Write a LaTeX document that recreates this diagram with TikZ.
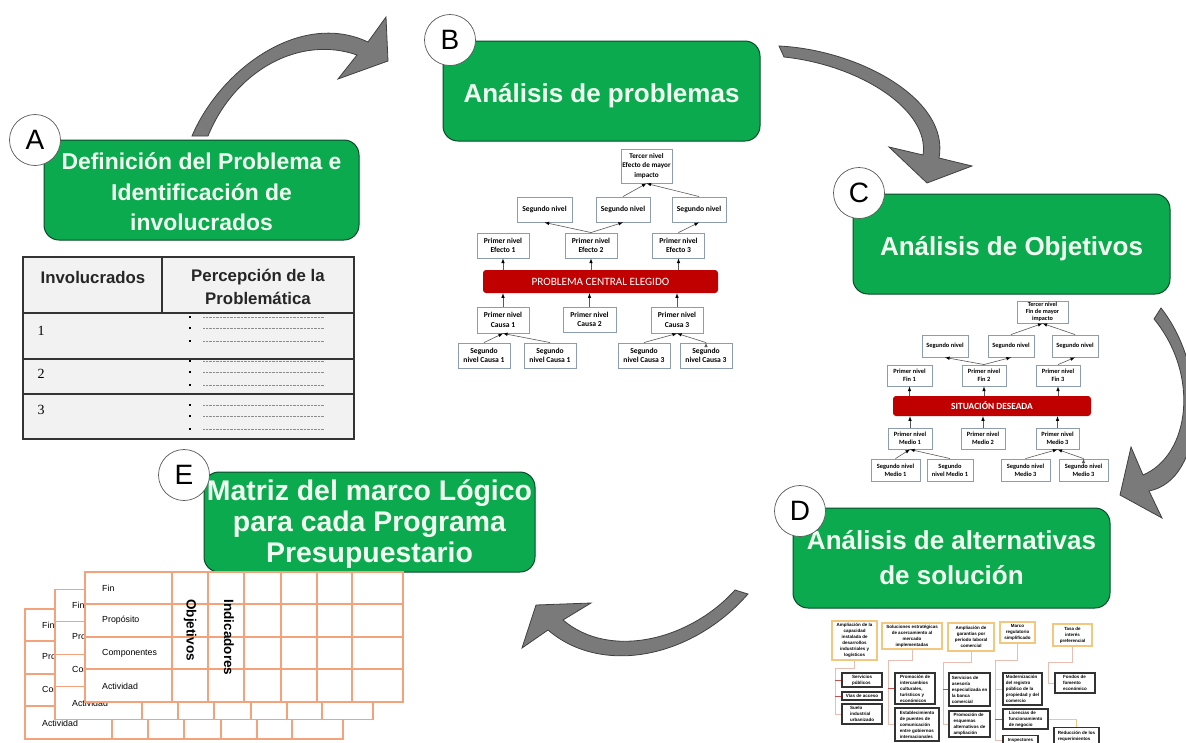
\documentclass[tikz,border=0pt]{standalone}
\usepackage{fontspec}
\setmainfont{Liberation Sans}
\newfontfamily\smallfont{Carlito}
\newfontfamily\numfont{Liberation Serif}
\usetikzlibrary{positioning}

\definecolor{verde}{HTML}{0BAA4F}
\definecolor{verdeosc}{HTML}{0A4A2A}
\definecolor{rojo}{HTML}{C00000}
\definecolor{azulgris}{HTML}{8D9DB0}
\definecolor{naranja}{HTML}{F4A27C}
\definecolor{amarillo}{HTML}{F3C77E}
\definecolor{rosa}{HTML}{E8BDB2}
\definecolor{rojizo}{HTML}{C8504A}

\tikzset{
  paso/.style={draw=verdeosc,line width=1pt,fill=verde,rounded corners=15pt,align=center,inner sep=0pt,
    text=green!6,font=\bfseries\fontsize{26}{31}\selectfont},
  letra/.style={circle,draw=black!65,line width=.7pt,fill=white,minimum size=51pt,inner sep=0pt,
    font=\fontsize{28}{28}\selectfont},
  flecha/.style={draw=black!75,line width=.8pt,fill=black!52,line join=miter},
  nivel/.style={draw=azulgris,line width=.9pt,fill=white,align=center,inner sep=0pt,
    font=\smallfont\bfseries\fontsize{7.6}{9.5}\selectfont},
  nivelc/.style={nivel,font=\smallfont\bfseries\fontsize{6.4}{8.3}\selectfont},
  barra/.style={fill=rojo,rounded corners=3pt,text=white,inner sep=0pt},
  meta/.style={draw=amarillo,line width=1.2pt,fill=white,align=center,inner sep=0pt,
    font=\bfseries\fontsize{4.5}{6}\selectfont},
  accion/.style={draw=black!80,line width=1.2pt,fill=white,align=left,inner sep=1.5pt,
    font=\bfseries\fontsize{4.5}{6}\selectfont},
  rama/.style={draw=rosa,line width=.8pt},
  ramaroja/.style={draw=rojizo,line width=.9pt},
  celda/.style={font=\fontsize{8.8}{8.8}\selectfont,anchor=west,inner sep=0pt},
  titulo/.style={align=center,font=\bfseries\fontsize{16.8}{22.5}\selectfont,text=black!85},
  num/.style={font=\numfont\fontsize{14}{14}\selectfont},
  vertical/.style={rotate=-90,font=\bfseries\fontsize{13.5}{13.5}\selectfont},
}

% one sheet of the matrix
\newcommand{\hojamatriz}[2]{
  \begin{scope}[shift={(#1,#2)}]
    \draw[draw=naranja,line width=1.7pt,fill=white] (85,572) rectangle (403,702);
    \foreach \ycelda in {604,637,669}
      \draw[naranja,line width=1.7pt] (85,\ycelda) -- (403,\ycelda);
    \foreach \xcelda in {172,208,244,281,317,352}
      \draw[naranja,line width=1.7pt] (\xcelda,572) -- (\xcelda,702);
    \node[celda] (fin#1) at (102,588) {Fin};
    \node[celda] (pro#1) at (102,620) {Propósito};
    \node[celda] (com#1) at (102,653) {Componentes};
    \node[celda] (act#1) at (102,686) {Actividad};
  \end{scope}
}

\begin{document}
\begin{tikzpicture}[x=1pt,y=-1pt]
  \clip (0,0) rectangle (1186,742);
  \fill[white] (0,0) rectangle (1186,742);

  % arrows between the steps
  \draw[flecha] (192,136) .. controls (220,70) and (300,10) .. (368,42)
    -- (386,17) -- (388,61) -- (338,79) -- (357,55)
    .. controls (300,35) and (235,70) .. (208,136) -- cycle;
  \draw[flecha] (779,46) .. controls (860,50) and (950,100) .. (939,158)
    -- (972,166) -- (927,183) -- (889,147) -- (923,155)
    .. controls (930,110) and (860,65) .. (784,57) -- cycle;
  \draw[flecha] (1161,308) .. controls (1210,370) and (1205,480) .. (1149,491)
    -- (1162,518) -- (1120,495) -- (1131,447) -- (1143,475)
    .. controls (1190,455) and (1200,375) .. (1154,319) -- cycle;
  \draw[flecha] (735,590) .. controls (690,640) and (610,660) .. (563,620)
    -- (591,603) -- (536,605) -- (522,648) -- (548,630)
    .. controls (600,675) and (690,660) .. (748,594) -- cycle;

  % A
  \node[paso,minimum width=315pt,minimum height=100pt,font=\bfseries\fontsize{22.9}{30.5}\selectfont] (pasoA) at (201.5,190) {\rule{0pt}{21pt}Definición del Problema e\\Identificación de\\involucrados};
  \node[letra] (letraA) at (35,140) {A};

  % B
  \node[paso,minimum width=317pt,minimum height=100pt,text height=22pt,text depth=0pt] (pasoB) at (601.5,91) {Análisis de problemas};
  \node[letra] (letraB) at (450,40) {B};

  % C
  \node[paso,minimum width=317pt,minimum height=100pt,text height=22pt,text depth=0pt] (pasoC) at (1011.5,244) {Análisis de Objetivos};
  \node[letra] (letraC) at (859,193) {C};

  % D
  \node[paso,minimum width=317pt,minimum height=100pt,font=\bfseries\fontsize{26}{35}\selectfont] (pasoD) at (951.5,558) {Análisis de alternativas\\de solución};
  \node[letra] (letraD) at (800,511) {D};

  % E
  \node[paso,minimum width=331pt,minimum height=100pt,font=\bfseries\fontsize{28.4}{31}\selectfont] (pasoE) at (369.5,522) {\rule{0pt}{24pt}Matriz del marco Lógico\\para cada Programa\\Presupuestario};
  \node[letra] (letraE) at (184,475) {E};

  % table of A
  \draw[draw=black!80,line width=1.4pt,fill=black!5] (23,257) rectangle (354,439);
  \draw[black!80,line width=1.4pt] (23,313) -- (354,313) (23,359) -- (354,359) (23,394) -- (354,394) (162,257) -- (162,313);
  \node[titulo] (invol) at (93,277) {Involucrados};
  \node[titulo] (perc) at (258,287) {Percepción de la\\Problemática};
  \node[num] (uno) at (41,331) {1};
  \node[num] (dos) at (41,374) {2};
  \node[num] (tres) at (41,410) {3};
  \foreach \ypunto in {317,328,341,361,372,385,405,416,429} {
    \fill[black] (188.7,\ypunto-1.3) rectangle (191.3,\ypunto+1.3);
    \draw[black!45,line width=.4pt,densely dotted] (203,\ypunto) -- (324,\ypunto);
  }

  % tree of B
  \node[barra,minimum width=235pt,minimum height=23pt,font=\smallfont\fontsize{11.2}{11.2}\selectfont] (rojoB) at (600.5,281.5) {PROBLEMA CENTRAL ELEGIDO};
  \node[nivel,minimum width=51pt,minimum height=34pt,font=\smallfont\bfseries\fontsize{7.2}{9.5}\selectfont] (terB) at (646.5,166) {Tercer nivel\\Efecto de mayor\\impacto};
  \node[nivel,minimum width=55pt,minimum height=25pt] (seB1) at (544.5,209.5) {Segundo nivel};
  \node[nivel,minimum width=54pt,minimum height=25pt] (seB2) at (623,209.5) {Segundo nivel};
  \node[nivel,minimum width=54pt,minimum height=25pt] (seB3) at (699,209.5) {Segundo nivel};
  \node[nivel,minimum width=52pt,minimum height=25pt] (prB1) at (503,245.5) {Primer nivel\\Efecto 1};
  \node[nivel,minimum width=52pt,minimum height=25pt] (prB2) at (591,245.5) {Primer nivel\\Efecto 2};
  \node[nivel,minimum width=52pt,minimum height=25pt] (prB3) at (678.5,245.5) {Primer nivel\\Efecto 3};
  \node[nivel,minimum width=52pt,minimum height=26pt] (caB1) at (503,320) {Primer nivel\\Causa 1};
  \node[nivel,minimum width=53pt,minimum height=25pt] (caB2) at (589.5,319.5) {Primer nivel\\Causa 2};
  \node[nivel,minimum width=52pt,minimum height=26pt] (caB3) at (677,320) {Primer nivel\\Causa 3};
  \node[nivel,minimum width=52pt,minimum height=25pt] (baB1) at (484,355.5) {Segundo\\nivel Causa 1};
  \node[nivel,minimum width=52pt,minimum height=25pt] (baB2) at (550,355.5) {Segundo\\nivel Causa 1};
  \node[nivel,minimum width=52pt,minimum height=25pt] (baB3) at (644,355.5) {Segundo\\nivel Causa 3};
  \node[nivel,minimum width=52pt,minimum height=25pt] (baB4) at (706,355.5) {Segundo\\nivel Causa 3};

  \path[-latex,draw=black!65,line width=.6pt]
  (prB1.south |- rojoB.north) edge (prB1.south)
  (prB2.south |- rojoB.north) edge (prB2.south)
  (prB3.south |- rojoB.north) edge (prB3.south)
  (caB1.north) edge (caB1.north |- rojoB.south)
  (caB2.north) edge (caB2.north |- rojoB.south)
  (caB3.north) edge (caB3.north |- rojoB.south)
  (prB2.north) edge (seB1.south)
  (prB2.north) edge (seB2.south)
  (prB3.north) edge (seB3.south)
  (seB2.north) edge (terB.south)
  (seB3.north) edge (terB.south)
  (baB1.north) edge (caB1.south)
  (baB2.north) edge (caB1.south)
  (baB3.north) edge (caB3.south)
  (baB4.north) edge (caB3.south);

  % tree of C
  \node[barra,minimum width=198pt,minimum height=20pt,font=\smallfont\bfseries\fontsize{9.4}{9.4}\selectfont] (rojoC) at (992,406) {SITUACIÓN DESEADA};
  \node[nivelc,minimum width=51pt,minimum height=22pt,font=\smallfont\bfseries\fontsize{6.2}{6.8}\selectfont] (terC) at (1042.5,312) {Tercer nivel\\Fin de mayor\\impacto};
  \node[nivelc,minimum width=46pt,minimum height=22pt] (seC1) at (945,346) {Segundo nivel};
  \node[nivelc,minimum width=46pt,minimum height=22pt] (seC2) at (1011,346) {Segundo nivel};
  \node[nivelc,minimum width=46pt,minimum height=22pt] (seC3) at (1075,346) {Segundo nivel};
  \node[nivelc,minimum width=45pt,minimum height=21pt] (prC1) at (909.5,375.5) {Primer nivel\\Fin 1};
  \node[nivelc,minimum width=44pt,minimum height=21pt] (prC2) at (984,375.5) {Primer nivel\\Fin 2};
  \node[nivelc,minimum width=44pt,minimum height=21pt] (prC3) at (1058,375.5) {Primer nivel\\Fin 3};
  \node[nivelc,minimum width=44pt,minimum height=21pt] (meC1) at (910,438.5) {Primer nivel\\Medio 1};
  \node[nivelc,minimum width=44pt,minimum height=21pt] (meC2) at (983,438.5) {Primer nivel\\Medio 2};
  \node[nivelc,minimum width=43pt,minimum height=21pt] (meC3) at (1057.5,438.5) {Primer nivel\\Medio 3};
  \node[nivelc,minimum width=49pt,minimum height=22pt] (baC1) at (895.5,470) {Segundo nivel\\Medio 1};
  \node[nivelc,minimum width=46pt,minimum height=22pt] (baC2) at (950,470) {Segundo\\nivel Medio 1};
  \node[nivelc,minimum width=49pt,minimum height=22pt] (baC3) at (1025.5,470) {Segundo nivel\\Medio 3};
  \node[nivelc,minimum width=49pt,minimum height=22pt] (baC4) at (1083.5,470) {Segundo nivel\\Medio 3};

  \path[-latex,draw=black!65,line width=.6pt]
  (prC1.south |- rojoC.north) edge (prC1.south)
  (prC2.south |- rojoC.north) edge (prC2.south)
  (prC3.south |- rojoC.north) edge (prC3.south)
  (meC1.north) edge (meC1.north |- rojoC.south)
  (meC2.north) edge (meC2.north |- rojoC.south)
  (meC3.north) edge (meC3.north |- rojoC.south)
  (prC2.north) edge (seC1.south)
  (prC2.north) edge (seC2.south)
  (prC3.north) edge (seC3.south)
  (seC2.north) edge (terC.south)
  (seC3.north) edge (terC.south)
  (baC1.north) edge (meC1.south)
  (baC2.north) edge (meC1.south)
  (baC3.north) edge (meC3.south)
  (baC4.north) edge (meC3.south);

  % tree of D
  \node[meta,minimum width=45pt,minimum height=39pt] (me1) at (854.5,640.5) {Ampliación de la\\capacidad\\instalada de\\desarrollos\\industriales y\\logísticos};
  \node[meta,minimum width=60pt,minimum height=26pt] (me2) at (912,636) {Soluciones estratégicas\\de acercamiento al\\mercado\\implementadas};
  \node[meta,minimum width=46pt,minimum height=28pt] (me3) at (971,637) {Ampliación de\\garantías por\\período laboral\\comercial};
  \node[meta,minimum width=35pt,minimum height=21pt] (me4) at (1017.5,632.5) {Marco\\regulatorio\\simplificado};
  \node[meta,minimum width=39pt,minimum height=22pt] (me5) at (1072.5,635) {Tasa de\\interés\\preferencial};

  \node[accion,minimum width=40pt,minimum height=14pt] (ac1) at (862,680) {Servicios\\públicos};
  \node[accion,minimum width=40pt,minimum height=8pt] (ac2) at (862,696) {Vías de acceso};
  \node[accion,minimum width=40pt,minimum height=20pt] (ac3) at (862,714) {Suelo\\industrial\\urbanizado};
  \node[accion,minimum width=40pt,minimum height=31pt] (ac4) at (915,688.5) {Promoción de\\intercambios\\culturales,\\turísticos y\\económicos};
  \node[accion,minimum width=44pt,minimum height=33pt] (ac5) at (917,724.5) {Establecimiento\\de puentes de\\comunicación\\entre gobiernos\\internacionales};
  \node[accion,minimum width=41pt,minimum height=33pt] (ac6) at (969.5,689.5) {Servicios de\\asesoría\\especializada en\\la banca\\comercial};
  \node[accion,minimum width=41pt,minimum height=26pt] (ac7) at (969.5,724) {Promoción de\\esquemas\\alternativos de\\ampliación};
  \node[accion,minimum width=39pt,minimum height=32pt] (ac8) at (1022.5,689) {Modernización\\del registro\\público de la\\propiedad y del\\comercio};
  \node[accion,minimum width=45pt,minimum height=20pt] (ac9) at (1025.5,719) {Licencias de\\funcionamiento\\de negocio};
  \node[accion,minimum width=35pt,minimum height=9pt,anchor=north] (ac10) at (1020.5,735) {Inspectores};
  \node[accion,minimum width=45pt,minimum height=17pt,anchor=north] (ac11) at (1076.5,727) {Reducción de los\\requerimientos};
  \node[accion,minimum width=40pt,minimum height=20pt] (ac12) at (1075,683) {Fondos de\\fomento\\económico};

  \coordinate (tr1) at (835,668);
  \coordinate (tr2) at (888,660);
  \coordinate (tr3) at (943,662);
  \coordinate (tr4) at (995,660);
  \coordinate (tr5) at (1048,662);
  \draw[rama] (me1.south) |- (tr1) |- (ac1.west) (tr1) |- (ac2.west) (tr1) |- (ac3.west);
  \draw[rama] (me2.south) |- (tr2) |- (ac4.west) (tr2) |- (ac5.west);
  \draw[rama] (me3.south) |- (tr3) |- (ac6.west) (tr3) |- (ac7.west);
  \draw[rama] (me4.south) |- (tr4) |- (ac8.west) (tr4) |- (ac9.west) (tr4) |- (ac10.west);
  \draw[rama] (me5.south) |- (tr5) |- (ac12.west);
  \draw[draw=amarillo,line width=.7pt] (ac9.east) -| (ac11.north);
  \draw[ramaroja] (tr1 |- ac1.west) -- (ac1.west) (tr1 |- ac2.west) -- (ac2.west);
  \draw[ramaroja] (tr2 |- ac4.west) -- (ac4.west);
  \draw[ramaroja] (tr3 |- ac6.west) -- (ac6.west);
  \draw[ramaroja] (tr4 |- ac9.west) -- (ac9.west);

  % sheets of E
  \hojamatriz{-60}{37}
  \hojamatriz{-30}{17.5}
  \hojamatriz{0}{0}
  \node[vertical] (obj) at (190,630) {Objetivos};
  \node[vertical] (ind) at (229,637.5) {Indicadores};
\end{tikzpicture}
\end{document}
